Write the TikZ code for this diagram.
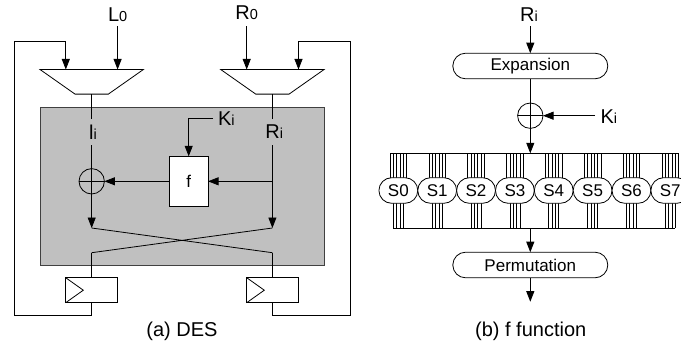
\documentclass[tikz,border=0pt]{standalone}
\usepackage{fontspec}
\setmainfont{Liberation Sans}
\usetikzlibrary{arrows.meta,shapes.geometric,shapes.misc}
\newcommand{\lb}[2]{#1{\fontsize{14.5}{14.5}\selectfont #2}}
\tikzset{
	wire/.style={line width=0.8pt},
	flow/.style={wire,-{Triangle[length=10.5pt,width=8pt]}},
	txt/.style={inner sep=0pt,outer sep=0pt,font=\fontsize{20}{20}\selectfont},
	gaplabel/.style={txt,minimum height=26pt},
	mux/.style={draw,wire,trapezium,trapezium stretches=true,shape border rotate=180,trapezium left angle=43.6,trapezium right angle=43.6,minimum width=103.4pt,minimum height=24.6pt,inner sep=1pt,outer sep=0pt},
	xorgate/.style={draw,wire,circle,minimum size=25.4pt,inner sep=0pt,outer sep=0pt},
	fbox/.style={draw,wire,fill=white,minimum width=38.7pt,minimum height=50pt,inner sep=0pt,outer sep=0pt,font=\fontsize{17}{17}\selectfont},
	reg/.style={draw,wire,fill=white,minimum width=51.8pt,minimum height=25pt,inner sep=0pt,outer sep=0pt},
	pill/.style={draw,wire,fill=white,rounded rectangle,minimum width=155pt,minimum height=25.6pt,inner sep=0pt,outer sep=0pt,font=\fontsize{17}{17}\selectfont},
	sbox/.style={draw,wire,fill=white,rounded rectangle,minimum width=38.85pt,minimum height=25.6pt,inner sep=0pt,outer sep=0pt,font=\fontsize{17}{17}\selectfont},
}
\begin{document}
\begin{tikzpicture}[x=1pt,y=-1pt]
	\useasboundingbox (0,0) rectangle (681,343);
	\fill[fill={rgb,255:red,192;green,192;blue,192},draw=black!75,line width=0.8pt] (40,107) rectangle (324,265);
	\node[txt] (l0) at (117.7,15) {\lb{L}{0}};
	\node[txt] (r0) at (246.7,13) {\lb{R}{0}};
	\coordinate (l0in) at (117.6,26);
	\coordinate (r0in) at (246.7,26);
	\node[mux] (lmux) at (91.7,81.8) {};
	\node[mux] (rmux) at (272.4,81.8) {};
	\node[gaplabel] (li) at (93,132) {\lb{l}{i}};
	\node[gaplabel] (ri) at (274.3,132) {\lb{R}{i}};
	\node[xorgate] (lxor) at (91.7,181.3) {};
	\node[fbox] (f) at (188.7,181.3) {f};
	\node[txt,anchor=west] (ki) at (218,118.7) {\lb{K}{i}};
	\coordinate (lcr) at (91.7,228);
	\coordinate (rcr) at (272.4,228);
	\coordinate (lcb) at (91.7,252.7);
	\coordinate (rcb) at (272.4,252.7);
	\node[reg] (lreg) at (91.6,290.2) {};
	\node[reg] (rreg) at (272.6,290.2) {};
	\coordinate (ltop) at (14,41.5);
	\coordinate (lbot) at (14,315);
	\coordinate (rtop) at (350.5,41.5);
	\coordinate (rbot) at (350.5,315);
	\coordinate (lfb) at (65.8,41.5);
	\coordinate (rfb) at (298.5,41.5);
	\draw[flow] (l0in)--(l0in |- lmux.north);
	\draw[flow] (r0in)--(r0in |- rmux.north);
	\draw[flow] (ltop)--(lfb)--(lfb |- lmux.north);
	\draw[flow] (rtop)--(rfb)--(rfb |- rmux.north);
	\draw[wire] (lmux.south)--(lmux.south |- li.north);
	\draw[wire] (rmux.south)--(rmux.south |- ri.north);
	\draw[wire] (lmux.south |- li.south)--(lxor.north);
	\draw[flow] (rmux.south |- ri.south)--(rcr);
	\draw[flow] (lxor.south)--(lcr);
	\draw[wire] (lxor.north)--(lxor.south) (lxor.west)--(lxor.east);
	\draw[flow] ([xshift=-5pt]ki.west)--(f.north |- ki)--(f.north);
	\draw[flow] (rmux.south |- f)--(f.east);
	\draw[flow] (f.west)--(lxor.east);
	\draw[wire] (lcr)--(rcb) (rcr)--(lcb);
	\draw[wire] (lcb)--(lcb |- lreg.north) (rcb)--(rcb |- rreg.north);
	\draw[wire] (lcb |- lreg.south)--(lcb |- lbot)--(lbot)--(ltop);
	\draw[wire] (rcb |- rreg.south)--(rcb |- rbot)--(rbot)--(rtop);
	\draw[wire] (lreg.north west)--([xshift=17.6pt]lreg.west)--(lreg.south west);
	\draw[wire] (rreg.north west)--([xshift=17.6pt]rreg.west)--(rreg.south west);
	\node[txt] (capa) at (182,331) {(a) DES};
	\node[txt] (rb) at (529,15) {\lb{R}{i}};
	\coordinate (rbin) at (530.3,26);
	\node[pill] (exp) at (530.3,66) {Expansion};
	\node[xorgate] (bxor) at (530.3,115.7) {};
	\node[txt,anchor=west] (kb) at (600.5,117) {\lb{K}{i}};
	\coordinate (tbus) at (530.3,153.3);
	\coordinate (tbusl) at (390,153.3);
	\coordinate (tbusr) at (677.7,153.3);
	\coordinate (bbus) at (530.3,228);
	\coordinate (bbusl) at (393.3,228);
	\coordinate (bbusr) at (675,228);
	\foreach \i in {0,...,7}{
		\coordinate (w\i) at ({398.35+38.85*\i},190.5);
		\foreach \k in {-8.35,-5,-1.65,1.65,5,8.35}
			\draw[line width=0.7pt] ([xshift=\k pt]w\i.center)--([xshift=\k pt]w\i.center |- tbus);
		\foreach \k in {-5,-1.65,1.65,5}
			\draw[line width=0.7pt] ([xshift=\k pt]w\i.center)--([xshift=\k pt]w\i.center |- bbus);
		\node[sbox] (s\i) at (w\i) {S\i};
	}
	\draw[wire] (tbusl)--(tbusr) (bbusl)--(bbusr);
	\node[pill] (perm) at (530.3,265) {Permutation};
	\coordinate (pout) at (530.3,301.7);
	\draw[flow] (rbin)--(exp.north);
	\draw[wire] (exp.south)--(bxor.north);
	\draw[wire] (bxor.north)--(bxor.south) (bxor.west)--(bxor.east);
	\draw[flow] ([xshift=-5.5pt]kb.west |- bxor)--(bxor.east);
	\draw[flow] (bxor.south)--(tbus);
	\draw[flow] (bbus)--(perm.north);
	\draw[flow] (perm.south)--(pout);
	\node[txt] (capb) at (530.7,331) {(b) f function};
\end{tikzpicture}
\end{document}
